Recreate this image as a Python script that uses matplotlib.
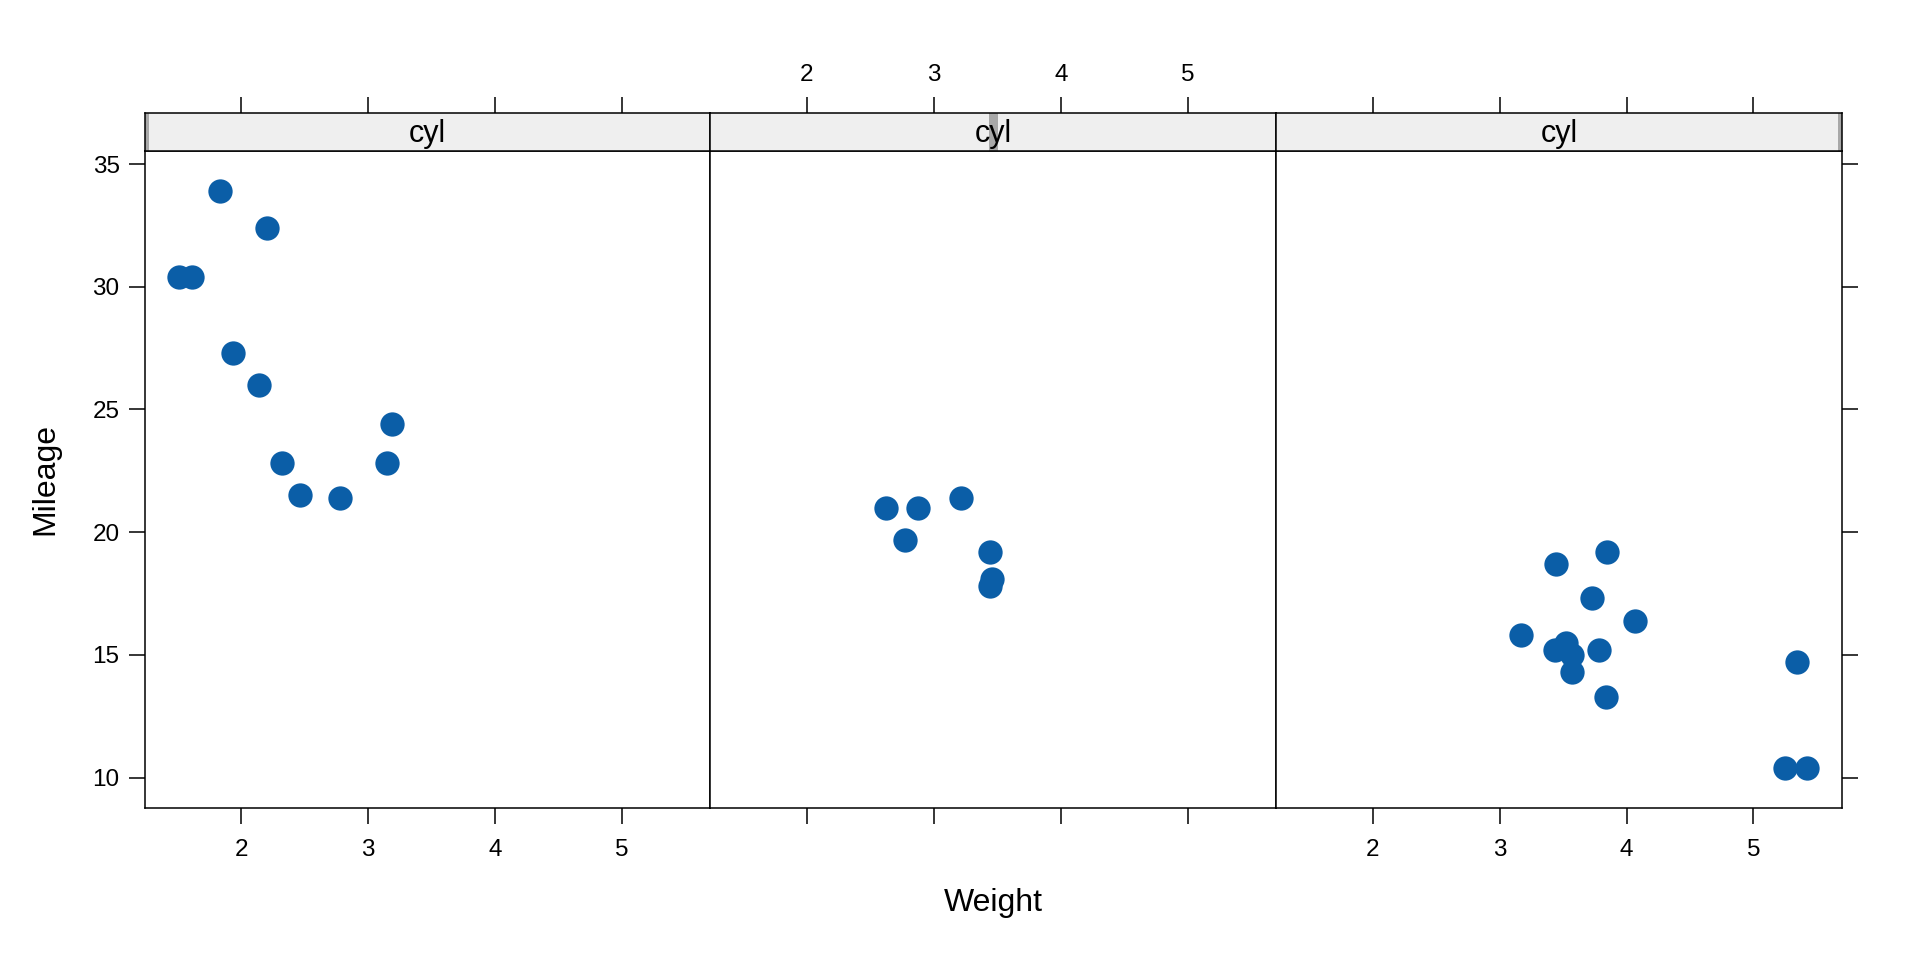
import matplotlib.pyplot as plt
from matplotlib.patches import Rectangle

# mtcars: weight (1000 lbs) and mileage (mpg) by number of cylinders
cyl_levels = [4, 6, 8]
wt_4 = [2.320, 3.190, 3.150, 2.200, 1.615, 1.835, 2.465, 1.935, 2.140, 1.513, 2.780]
mpg_4 = [22.8, 24.4, 22.8, 32.4, 30.4, 33.9, 21.5, 27.3, 26.0, 30.4, 21.4]
wt_6 = [2.620, 2.875, 3.215, 3.460, 3.440, 3.440, 2.770]
mpg_6 = [21.0, 21.0, 21.4, 18.1, 19.2, 17.8, 19.7]
wt_8 = [3.440, 3.570, 4.070, 3.730, 3.780, 5.250, 5.424, 5.345, 3.520, 3.435,
        3.840, 3.845, 3.170, 3.570]
mpg_8 = [18.7, 14.3, 16.4, 17.3, 15.2, 10.4, 10.4, 14.7, 15.5, 15.2,
         13.3, 19.2, 15.8, 15.0]
x_ticks = [2, 3, 4, 5]
y_ticks = [10, 15, 20, 25, 30, 35]

wts = [wt_4, wt_6, wt_8]
mpgs = [mpg_4, mpg_6, mpg_8]

plt.rcParams['font.family'] = ['Liberation Sans', 'DejaVu Sans']

# lattice style padding of 7% on each side
all_wt = wt_4 + wt_6 + wt_8
all_mpg = mpg_4 + mpg_6 + mpg_8
pad_x = 0.07 * (max(all_wt) - min(all_wt))
pad_y = 0.07 * (max(all_mpg) - min(all_mpg))
xlim = (min(all_wt) - pad_x, max(all_wt) + pad_x)
ylim = (min(all_mpg) - pad_y, max(all_mpg) + pad_y)

fig = plt.figure(figsize=(19.2, 9.6), dpi=100)

left, right = 0.0753, 0.9594
width = (right - left) / 3
bottom, strip_bot, strip_top = 0.1581, 0.8431, 0.8826
dot_col = '#0B5EA7'
lw = 1.1
tick_len = 11.5
tick_fs = 17.5

for i, lev in enumerate(cyl_levels):
    x0 = left + i * width
    ax = fig.add_axes([x0, bottom, width, strip_bot - bottom])
    st = fig.add_axes([x0, strip_bot, width, strip_top - strip_bot], sharex=ax)

    ax.plot(wts[i], mpgs[i], 'o', color=dot_col, markersize=17.5, markeredgewidth=0)
    ax.set_xlim(xlim)
    ax.set_ylim(ylim)
    for s in ax.spines.values():
        s.set_linewidth(lw)

    ax.set_xticks(x_ticks)
    ax.set_yticks(y_ticks)
    ax.tick_params(direction='out', length=tick_len, width=lw, labelsize=tick_fs)
    # bottom labels on outer panels, y labels on left, right ticks on last panel
    ax.tick_params(axis='x', labelbottom=(i != 1), pad=10.5)
    ax.tick_params(axis='y', left=(i == 0), labelleft=(i == 0),
                   right=(i == 2), labelright=False, pad=6.5)

    # strip with the shingle level indicator
    st.set_facecolor('#EFEFEF')
    st.set_ylim(0, 1)
    frac = (lev - cyl_levels[0]) / (cyl_levels[-1] - cyl_levels[0])
    ind_w = 0.016
    st.add_patch(Rectangle((frac - ind_w / 2, 0), ind_w, 1, transform=st.transAxes,
                           facecolor='#A8A8A8', edgecolor='none', clip_on=True))
    st.text(0.5, 0.45, 'cyl', transform=st.transAxes, ha='center', va='center',
            fontsize=22)
    for s in st.spines.values():
        s.set_linewidth(lw)
    st.set_yticks([])
    st.tick_params(axis='x', bottom=False, labelbottom=False, top=True,
                   labeltop=(i == 1), direction='out', length=tick_len, width=lw,
                   labelsize=tick_fs, pad=7.5)

fig.text(0.0235, (bottom + strip_bot) / 2, 'Mileage', rotation=90, ha='center',
         va='center', fontsize=23)
fig.text((left + right) / 2, 1 - 903 / 960, 'Weight', ha='center', va='center',
         fontsize=23)

plt.savefig('out.png', dpi=100)
